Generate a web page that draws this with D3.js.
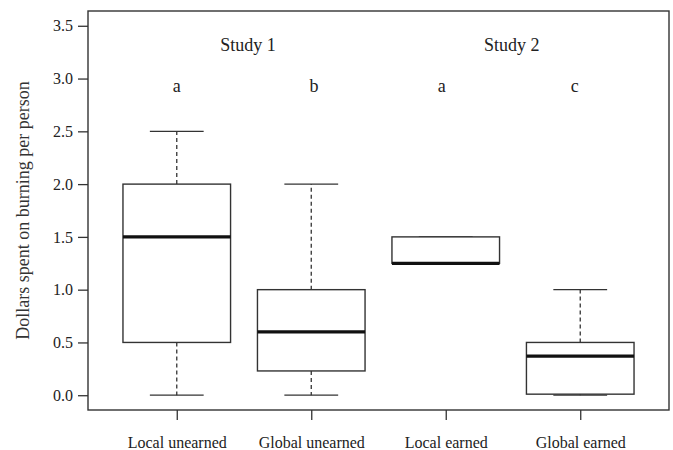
<!DOCTYPE html>
<html>
<head>
<meta charset="utf-8">
<script src="https://cdn.jsdelivr.net/npm/d3@7"></script>
<style>
  body { margin: 0; background: #fff; }
</style>
</head>
<body>
<div id="chart"></div>
<script>
// group names and box statistics
var categories = ["Local unearned", "Global unearned", "Local earned", "Global earned"];
var whiskerLow = [0, 0, 1.25, 0];
var q1 = [0.5, 0.23, 1.25, 0.01];
var median = [1.5, 0.6, 1.25, 0.37];
var q3 = [2.0, 1.0, 1.5, 0.5];
var whiskerHigh = [2.5, 2.0, 1.5, 1.0];

var letters = ["a", "b", "a", "c"];
var letterPos = [1, 2.02, 2.97, 3.96];
var studies = ["Study 1", "Study 2"];
var studyPos = [1.53, 3.49];
var yTicks = [0, 0.5, 1.0, 1.5, 2.0, 2.5, 3.0, 3.5];

var width = 673, height = 450;
var plot = { left: 88, right: 669, top: 11, bottom: 410 };
var serif = "'Liberation Serif', 'Times New Roman', 'DejaVu Serif', serif";

var svg = d3.select("#chart").append("svg")
    .attr("width", width)
    .attr("height", height)
    .attr("font-family", serif);

// R-style limits: 0.5..4.5 and 0..3.5 padded by 4%
var x = d3.scaleLinear().domain([0.34, 4.66]).range([plot.left, plot.right]);
var y = d3.scaleLinear().domain([-0.14, 3.64]).range([plot.bottom, plot.top]);

var boxW = 0.8, capW = 0.4;
var lineColor = "#333";

var data = categories.map(function(c, i) {
    return { name: c, pos: i + 1, lo: whiskerLow[i], q1: q1[i], med: median[i], q3: q3[i], hi: whiskerHigh[i] };
});

var g = svg.selectAll(".box")
    .data(data)
    .enter().append("g")
    .attr("class", "box");

// whiskers
g.append("line")
    .attr("x1", function(d) { return x(d.pos); })
    .attr("x2", function(d) { return x(d.pos); })
    .attr("y1", function(d) { return y(d.q3); })
    .attr("y2", function(d) { return y(d.hi); })
    .attr("stroke", lineColor).attr("stroke-width", 1.3)
    .attr("stroke-dasharray", "4,3");
g.append("line")
    .attr("x1", function(d) { return x(d.pos); })
    .attr("x2", function(d) { return x(d.pos); })
    .attr("y1", function(d) { return y(d.q1); })
    .attr("y2", function(d) { return y(d.lo); })
    .attr("stroke", lineColor).attr("stroke-width", 1.3)
    .attr("stroke-dasharray", "4,3");

// caps
[function(d) { return d.hi; }, function(d) { return d.lo; }].forEach(function(f) {
    g.append("line")
        .attr("x1", function(d) { return x(d.pos - capW / 2); })
        .attr("x2", function(d) { return x(d.pos + capW / 2); })
        .attr("y1", function(d) { return y(f(d)); })
        .attr("y2", function(d) { return y(f(d)); })
        .attr("stroke", lineColor).attr("stroke-width", 1.3);
});

// boxes
g.append("rect")
    .attr("x", function(d) { return x(d.pos - boxW / 2); })
    .attr("width", function(d) { return x(d.pos + boxW / 2) - x(d.pos - boxW / 2); })
    .attr("y", function(d) { return y(d.q3); })
    .attr("height", function(d) { return y(d.q1) - y(d.q3); })
    .attr("fill", "#fff")
    .attr("stroke", lineColor).attr("stroke-width", 1.4);

// medians
g.append("line")
    .attr("x1", function(d) { return x(d.pos - boxW / 2); })
    .attr("x2", function(d) { return x(d.pos + boxW / 2); })
    .attr("y1", function(d) { return y(d.med); })
    .attr("y2", function(d) { return y(d.med); })
    .attr("stroke", "#111").attr("stroke-width", 3.2);

// frame
svg.append("rect")
    .attr("x", plot.left).attr("y", plot.top)
    .attr("width", plot.right - plot.left)
    .attr("height", plot.bottom - plot.top)
    .attr("fill", "none")
    .attr("stroke", lineColor).attr("stroke-width", 1.4);

// Y axis
var yAxis = svg.append("g")
    .attr("transform", "translate(" + plot.left + ",0)")
    .call(d3.axisLeft(y).tickValues(yTicks).tickFormat(d3.format(".1f")).tickSize(10).tickPadding(5));
yAxis.attr("font-family", serif).attr("font-size", 16);
yAxis.select(".domain").remove();
yAxis.selectAll("line").attr("stroke", lineColor).attr("stroke-width", 1.3);
yAxis.selectAll("text").attr("fill", "#222");

// X axis
var xAxis = svg.append("g")
    .attr("transform", "translate(0," + plot.bottom + ")")
    .call(d3.axisBottom(x).tickValues([1, 2, 3, 4])
        .tickFormat(function(d) { return categories[d - 1]; })
        .tickSize(10).tickPadding(17));
xAxis.attr("font-family", serif).attr("font-size", 16);
xAxis.select(".domain").remove();
xAxis.selectAll("line").attr("stroke", lineColor).attr("stroke-width", 1.3);
xAxis.selectAll("text").attr("fill", "#222");

// study titles and significance letters
svg.selectAll(".study")
    .data(studies)
    .enter().append("text")
    .attr("class", "study")
    .attr("x", function(d, i) { return x(studyPos[i]); })
    .attr("y", 51)
    .attr("text-anchor", "middle")
    .attr("font-size", 18)
    .attr("fill", "#222")
    .text(function(d) { return d; });

svg.selectAll(".letter")
    .data(letters)
    .enter().append("text")
    .attr("class", "letter")
    .attr("x", function(d, i) { return x(letterPos[i]); })
    .attr("y", 92)
    .attr("text-anchor", "middle")
    .attr("font-size", 18)
    .attr("fill", "#222")
    .text(function(d) { return d; });

// y label
svg.append("text")
    .attr("transform", "translate(29," + ((plot.top + plot.bottom) / 2) + ") rotate(-90)")
    .attr("text-anchor", "middle")
    .attr("font-size", 18)
    .attr("fill", "#333")
    .text("Dollars spent on burning per person");
</script>
</body>
</html>
